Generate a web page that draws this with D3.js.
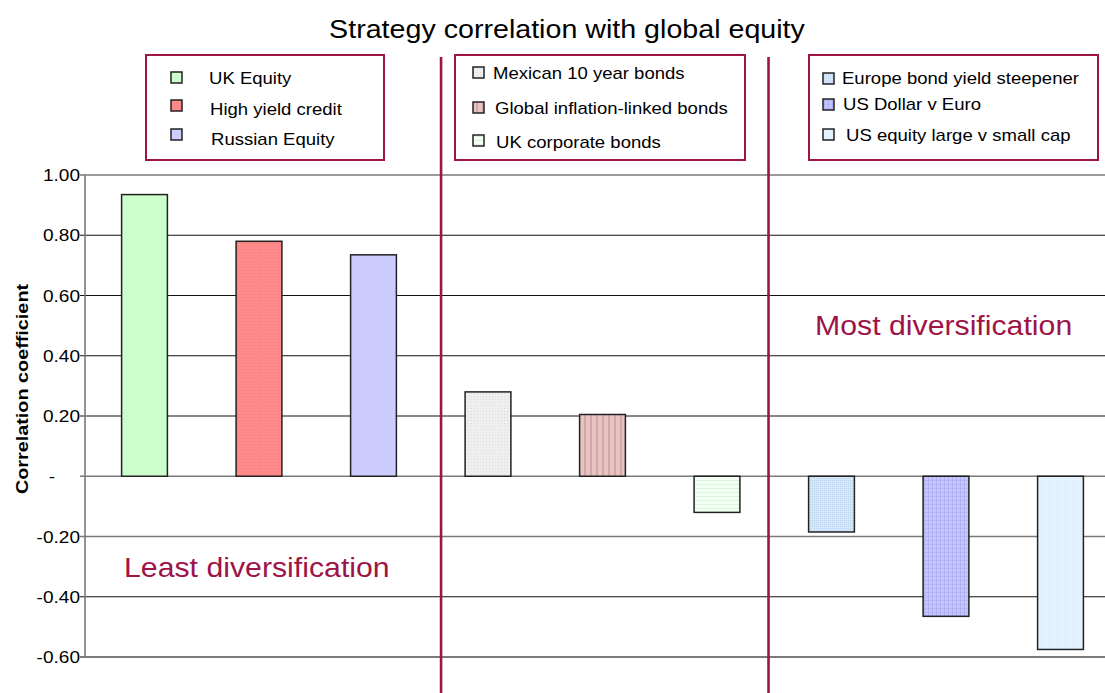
<!DOCTYPE html>
<html>
<head>
<meta charset="utf-8">
<script src="https://cdn.jsdelivr.net/npm/d3@7"></script>
<style>
  body { margin: 0; background: #fff; }
  svg { display: block; font-family: "Liberation Sans", Arial, sans-serif; }
</style>
</head>
<body>
<div></div>
<script>
// chart values
let categories = ["UK Equity", "High yield credit", "Russian Equity",
    "Mexican 10 year bonds", "Global inflation-linked bonds", "UK corporate bonds",
    "Europe bond yield steepener", "US Dollar v Euro", "US equity large v small cap"];
let values = [0.935, 0.78, 0.735, 0.28, 0.205, -0.12, -0.185, -0.465, -0.575];
let groups = [0, 0, 0, 1, 1, 1, 2, 2, 2];
let yTicks = [1.0, 0.8, 0.6, 0.4, 0.2, 0, -0.2, -0.4, -0.6];
let yTickLabels = ["1.00", "0.80", "0.60", "0.40", "0.20", "-", "-0.20", "-0.40", "-0.60"];

let dimension = {
    width: 1105,
    height: 693,
    margin: { top: 175, left: 85, right: 0, bottom: 36 }
};
const crimson = "#9e1447";

let svg = d3.select("div")
    .append("svg")
    .attr("width", dimension.width)
    .attr("height", dimension.height);

// the original font is a little wider than Liberation Sans
function stretch(sel, f) {
    sel.each(function () {
        let w = this.getComputedTextLength();
        d3.select(this).attr("textLength", w * f).attr("lengthAdjust", "spacingAndGlyphs");
    });
}

// fill textures
let defs = svg.append("defs");
function pattern(id, w, h, bg, draw) {
    let p = defs.append("pattern").attr("id", id)
        .attr("patternUnits", "userSpaceOnUse").attr("width", w).attr("height", h);
    p.append("rect").attr("width", w).attr("height", h).attr("fill", bg);
    if (draw) draw(p);
}
pattern("p0", 4, 4, "#ccffcc");
pattern("p1", 3, 3, "#ff8a8a", p => p.append("rect").attr("width", 1).attr("height", 1).attr("fill", "#f47c7c"));
pattern("p2", 4, 4, "#ccccff");
pattern("p3", 3, 3, "#efefef", p => p.append("rect").attr("width", 1).attr("height", 1).attr("fill", "#dcdcdc"));
pattern("p4", 6, 6, "#e6c4c4", p => p.append("rect").attr("x", 2).attr("width", 2).attr("height", 6).attr("fill", "#d6a6a6"));
pattern("p5", 4, 4, "#f2fff2", p => p.append("rect").attr("width", 4).attr("height", 1).attr("fill", "#dcf4dc"));
pattern("p6", 2, 2, "#d8e8fb", p => p.append("rect").attr("width", 1).attr("height", 1).attr("fill", "#bcd4f2"));
pattern("p7", 4, 4, "#c6c6ff", p => {
    p.append("rect").attr("width", 1).attr("height", 4).attr("fill", "#aeaef2");
    p.append("rect").attr("width", 4).attr("height", 1).attr("fill", "#b4b4f4");
});
pattern("p8", 2, 2, "#eaf4ff", p => p.append("rect").attr("width", 1).attr("height", 1).attr("fill", "#d6e8fa"));

let X = d3.scaleBand()
    .domain(categories)
    .range([87.25, 1117.75])
    .paddingInner(0.6)
    .paddingOuter(0.3);

let Y = d3.scaleLinear()
    .domain([-0.6, 1.0])
    .range([657, 175]);

// gridlines
let grayLines = [1.0, 0, -0.2, -0.6];
svg.append("g").selectAll("line")
    .data(yTicks)
    .enter()
    .append("line")
    .attr("x1", dimension.margin.left - 5)
    .attr("x2", dimension.width)
    .attr("y1", d => Y(d))
    .attr("y2", d => Y(d))
    .attr("stroke", d => grayLines.includes(d) ? "#7a7a7a" : "#111")
    .attr("stroke-width", d => d == -0.6 ? 2.2 : (grayLines.includes(d) ? 1.6 : 1.1));

// y axis line
svg.append("line")
    .attr("x1", dimension.margin.left).attr("x2", dimension.margin.left)
    .attr("y1", Y(1.0)).attr("y2", Y(-0.6))
    .attr("stroke", "#7a7a7a").attr("stroke-width", 1.6);

// accounting-style zero dash sits left of the other labels
svg.append("g").selectAll("text")
    .data(yTicks)
    .enter()
    .append("text")
    .attr("x", d => d == 0 ? 55 : 80)
    .attr("y", d => Y(d) + 6)
    .attr("text-anchor", "end")
    .attr("font-size", 17)
    .attr("fill", "#000")
    .text((d, i) => yTickLabels[i])
    .call(stretch, 1.12);

svg.append("text")
    .attr("transform", "translate(28,389) rotate(-90)")
    .attr("text-anchor", "middle")
    .attr("font-size", 16.5)
    .attr("font-weight", "bold")
    .text("Correlation coefficient")
    .call(stretch, 1.2);

// bars
svg.append("g").selectAll("rect")
    .data(categories)
    .enter()
    .append("rect")
    .attr("x", d => X(d))
    .attr("width", X.bandwidth())
    .attr("y", (d, i) => Y(Math.max(0, values[i])))
    .attr("height", (d, i) => Math.abs(Y(values[i]) - Y(0)))
    .attr("fill", (d, i) => `url(#p${i})`)
    .attr("stroke", "#222")
    .attr("stroke-width", 1.5);

// group dividers, in category units from the first bar centre
let dividerAt = [2.59, 5.45];
let x0 = X(categories[0]) + X.bandwidth() / 2;
svg.append("g").selectAll("line")
    .data(dividerAt)
    .enter()
    .append("line")
    .attr("x1", d => x0 + X.step() * d)
    .attr("x2", d => x0 + X.step() * d)
    .attr("y1", 57)
    .attr("y2", dimension.height)
    .attr("stroke", crimson)
    .attr("stroke-width", 2.6);

// title
svg.append("text")
    .attr("x", 567)
    .attr("y", 38)
    .attr("text-anchor", "middle")
    .attr("font-size", 25)
    .text("Strategy correlation with global equity")
    .call(stretch, 1.145);

// legends
let legendBoxes = [
    { x: 146, y: 55, w: 238, h: 105, sx: 171, tx: [209, 210, 211], ty: [84, 115, 145], sy: [72, 100, 129] },
    { x: 455, y: 55, w: 290, h: 105, sx: 473, tx: [493, 495, 496], ty: [79, 114, 148], sy: [67, 102, 135] },
    { x: 809, y: 55, w: 289, h: 105, sx: 823, tx: [842, 843, 846], ty: [84, 110, 141], sy: [73, 99, 129] }
];
legendBoxes.forEach((b, g) => {
    let lg = svg.append("g");
    lg.append("rect")
        .attr("x", b.x).attr("y", b.y).attr("width", b.w).attr("height", b.h)
        .attr("fill", "#fff").attr("stroke", crimson).attr("stroke-width", 2);
    let items = categories.map((c, i) => i).filter(i => groups[i] == g);
    items.forEach((i, k) => {
        lg.append("rect")
            .attr("x", b.sx).attr("y", b.sy[k]).attr("width", 11).attr("height", 11)
            .attr("fill", `url(#p${i})`).attr("stroke", "#222").attr("stroke-width", 1.5);
        lg.append("text")
            .attr("x", b.tx[k]).attr("y", b.ty[k])
            .attr("font-size", 17)
            .text(categories[i])
            .call(stretch, 1.09);
    });
});

// annotations
svg.append("text")
    .attr("x", 124).attr("y", 577)
    .attr("font-size", 27.5)
    .attr("fill", crimson)
    .text("Least diversification")
    .call(stretch, 1.1);
svg.append("text")
    .attr("x", 815).attr("y", 335)
    .attr("font-size", 27.5)
    .attr("fill", crimson)
    .text("Most diversification")
    .call(stretch, 1.1);
</script>
</body>
</html>
